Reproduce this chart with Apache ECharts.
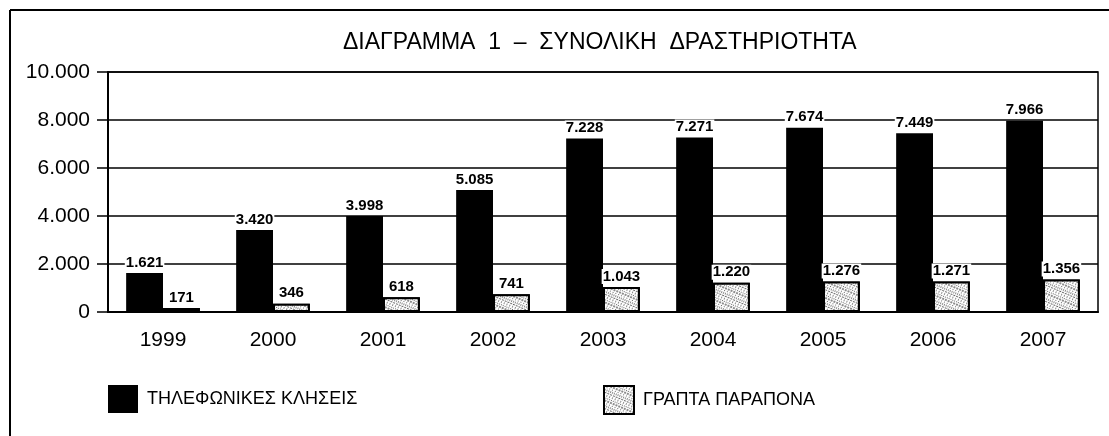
<!DOCTYPE html>
<html>
<head>
<meta charset="utf-8">
<script src="https://cdn.jsdelivr.net/npm/echarts@6/dist/echarts.min.js"></script>
<style>
  html, body { margin: 0; padding: 0; background: #fff; }
  #chart { width: 1109px; height: 436px; }
</style>
</head>
<body>
<div id="chart"></div>
<script>
// Διάγραμμα 1 — συνολική δραστηριότητα ανά έτος
const years = ['1999', '2000', '2001', '2002', '2003', '2004', '2005', '2006', '2007']
const calls = [1621, 3420, 3998, 5085, 7228, 7271, 7674, 7449, 7966]
const complaints = [171, 346, 618, 741, 1043, 1220, 1276, 1271, 1356]
const seriesNames = ['ΤΗΛΕΦΩΝΙΚΕΣ ΚΛΗΣΕΙΣ', 'ΓΡΑΠΤΑ ΠΑΡΑΠΟΝΑ']

const FONT = 'Liberation Sans, Arial, sans-serif'

// ελληνική μορφή χιλιάδων: 1.621
function fmt(v) { return String(v).replace(/\B(?=(\d{3})+(?!\d))/g, '.') }

const chart = echarts.init(document.getElementById('chart'))

const valueLabel = {
  show: true,
  position: 'top',
  distance: 3,
  color: '#000',
  fontFamily: FONT,
  fontSize: 15,
  fontWeight: 'bold',
  backgroundColor: '#fff',
  padding: [0, 1],
  formatter: p => fmt(p.value)
}

const legendBase = {
  top: 385,
  padding: 0,
  itemWidth: 30,
  itemHeight: 28,
  icon: 'rect',
  textStyle: { fontFamily: FONT, fontSize: 18, color: '#000', padding: [0, 0, 0, 4] }
}

chart.setOption({
  animation: false,
  title: {
    text: 'ΔΙΑΓΡΑΜΜΑ  1  –  ΣΥΝΟΛΙΚΗ  ΔΡΑΣΤΗΡΙΟΤΗΤΑ',
    left: 343,
    top: 31,
    padding: 0,
    textStyle: { fontFamily: FONT, fontSize: 23, fontWeight: 'normal', color: '#000' }
  },
  legend: [
    { ...legendBase, left: 108, data: [seriesNames[0]] },
    { ...legendBase, left: 603, data: [seriesNames[1]] }
  ],
  grid: {
    left: 108, right: 11, top: 72, bottom: 124,
    show: true, borderColor: '#000', borderWidth: 1.5
  },
  xAxis: {
    type: 'category',
    data: years,
    axisLine: { lineStyle: { color: '#000', width: 2 } },
    axisTick: { length: 15, lineStyle: { color: '#000', width: 2 } },
    axisLabel: { color: '#000', fontFamily: FONT, fontSize: 21, margin: 18 }
  },
  yAxis: {
    type: 'value',
    min: 0,
    max: 10000,
    interval: 2000,
    axisLine: { show: true, lineStyle: { color: '#000', width: 2 } },
    axisTick: { show: true, length: 11, lineStyle: { color: '#000', width: 1.5 } },
    splitLine: { lineStyle: { color: '#000', width: 1.5 } },
    axisLabel: { color: '#000', fontFamily: FONT, fontSize: 21, margin: 18, formatter: v => fmt(v) }
  },
  graphic: [
    { type: 'line', shape: { x1: 10, y1: 10, x2: 1109, y2: 10 }, style: { stroke: '#000', lineWidth: 2 } },
    { type: 'line', shape: { x1: 10, y1: 10, x2: 10, y2: 436 }, style: { stroke: '#000', lineWidth: 2 } }
  ],
  series: [
    {
      name: seriesNames[0],
      type: 'bar',
      data: calls,
      barGap: '0%',
      barCategoryGap: '33%',
      itemStyle: { color: '#000' },
      label: valueLabel
    },
    {
      name: seriesNames[1],
      type: 'bar',
      data: complaints,
      itemStyle: {
        color: '#fff',
        borderColor: '#000',
        borderWidth: 2,
        decal: {
          symbol: 'rect',
          symbolSize: 0.8,
          color: 'rgba(0,0,0,0.75)',
          backgroundColor: '#fff',
          dashArrayX: [[1, 1], [2, 1], [1, 2]],
          dashArrayY: [1, 1, 2, 1],
          rotation: 0.4
        }
      },
      label: valueLabel
    }
  ]
})
</script>
</body>
</html>
